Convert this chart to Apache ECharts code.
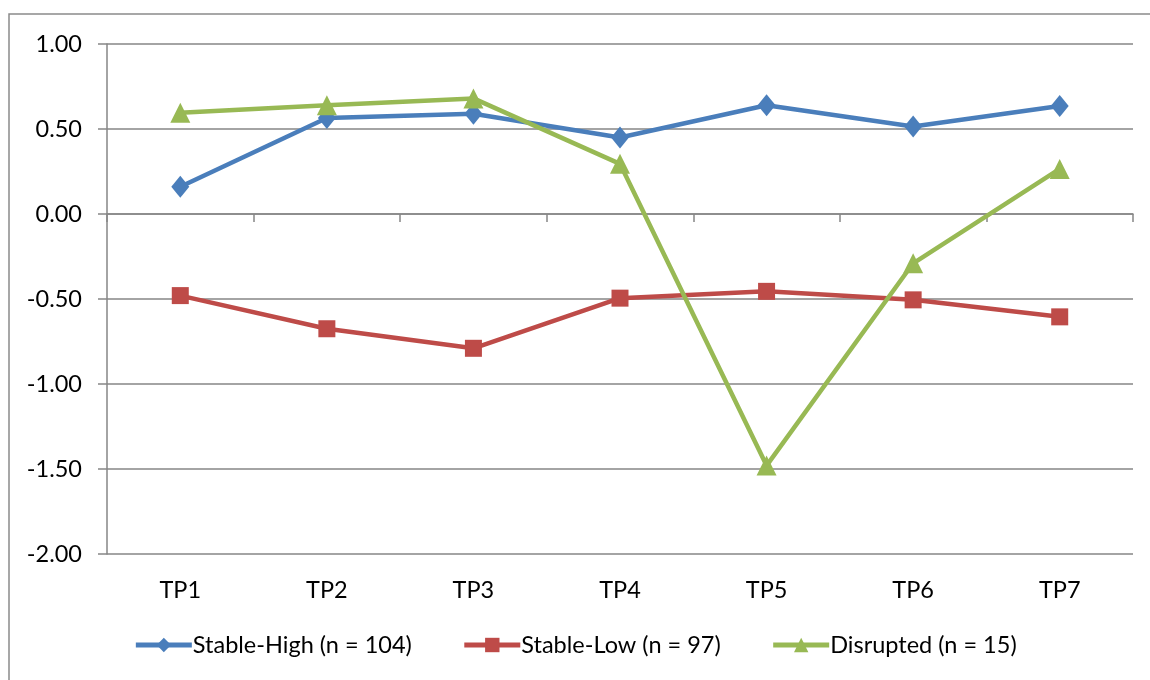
<!DOCTYPE html>
<html><head><meta charset="utf-8">
<script src="https://cdn.jsdelivr.net/npm/echarts@6/dist/echarts.min.js"></script>
<style>html,body{margin:0;padding:0;background:#fff}#c{width:1150px;height:680px}</style>
</head><body><div id="c"></div>
<script>
const categories = ['TP1','TP2','TP3','TP4','TP5','TP6','TP7'];
const seriesNames = ['Stable-High (n = 104)','Stable-Low (n = 97)','Disrupted (n = 15)'];
const stableHigh = [0.16, 0.565, 0.59, 0.45, 0.64, 0.515, 0.635];
const stableLow = [-0.48, -0.675, -0.79, -0.495, -0.455, -0.505, -0.605];
const disrupted = [0.595, 0.64, 0.68, 0.295, -1.48, -0.29, 0.265];
const yTicks = {min: -2, max: 1, interval: 0.5};

const FONT = 'Lato';
const FS = 23.5;
const gray = '#868686';
const chart = echarts.init(document.getElementById('c'));
function mk(name, data, color, symbol, size){
  return {name, type:'line', data, xAxisIndex:0, symbol, symbolSize:size,
    lineStyle:{color, width:4.5}, itemStyle:{color}, showAllSymbol:true, animation:false};
}
chart.setOption({
  animation:false,
  textStyle:{fontFamily:FONT},
  graphic:[{type:'rect', shape:{x:9,y:14,width:1160,height:700}, style:{fill:'none', stroke:'#8a8a8a', lineWidth:1.5}, z:-1}],
  grid:{left:107, right:17, top:44, bottom:126},
  legend:{bottom:18, left:'center', itemWidth:56, itemHeight:18, itemGap:50,
    lineStyle:{width:5},
    textStyle:{fontFamily:FONT, fontSize:FS, color:'#000', padding:[0,0,0,-4]},
    data:seriesNames},
  xAxis:[{type:'category', data:categories, boundaryGap:true,
      axisLine:{onZero:true, lineStyle:{color:gray, width:1.5}},
      axisTick:{show:true, length:8, inside:false, lineStyle:{color:gray, width:1.5}},
      axisLabel:{show:false}},
    {type:'category', data:categories, boundaryGap:true, position:'bottom',
      axisLine:{show:false, onZero:false}, axisTick:{show:false},
      axisLabel:{fontFamily:FONT, fontSize:FS, color:'#000', margin:24}}],
  yAxis:{type:'value', min:yTicks.min, max:yTicks.max, interval:yTicks.interval,
    axisLine:{show:true, lineStyle:{color:gray, width:1.5}},
    axisTick:{show:true, length:9, lineStyle:{color:gray, width:1.5}},
    splitLine:{lineStyle:{color:gray, width:1.5}},
    axisLabel:{fontFamily:FONT, fontSize:FS, color:'#000', margin:25, formatter:v=>v.toFixed(2)}},
  series:[
    mk(seriesNames[0], stableHigh, '#4A7EBB', 'diamond', [18,22]),
    mk(seriesNames[1], stableLow, '#BE4B48', 'rect', 17),
    mk(seriesNames[2], disrupted, '#98B954', 'triangle', 20)
  ]
});
</script></body></html>
